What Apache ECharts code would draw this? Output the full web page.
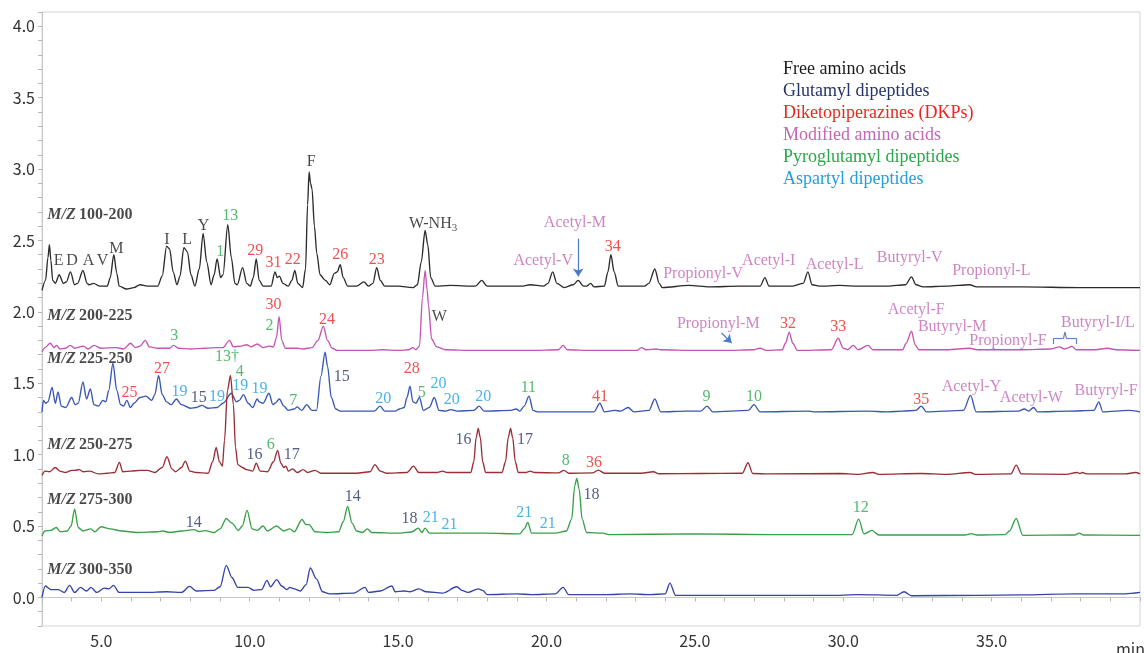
<!DOCTYPE html>
<html>
<head>
<meta charset="utf-8">
<title>LC-MS chromatogram</title>
<script src="https://cdn.jsdelivr.net/npm/echarts@6/dist/echarts.min.js"></script>
<style>
  html, body { margin: 0; padding: 0; background: #fff; }
  #main { width: 1144px; height: 653px; }
</style>
</head>
<body>
<div id="main"></div>
<script>
// retention time (min), intensity (offset per trace)
var mz100_200 = [
  [3.0, 2.15], [3.12, 2.22], [3.2, 2.38], [3.25, 2.47], [3.3, 2.36], [3.36, 2.22], [3.45, 2.2], [3.58, 2.26],
  [3.72, 2.2], [3.82, 2.21], [3.96, 2.28], [4.1, 2.19], [4.2, 2.2], [4.38, 2.29], [4.52, 2.2], [4.58, 2.19],
  [4.74, 2.2], [4.95, 2.18], [5.2, 2.18], [5.3, 2.24], [5.42, 2.40], [5.52, 2.27], [5.6, 2.18], [5.85, 2.16],
  [6.1, 2.17], [6.3, 2.19], [6.55, 2.18], [6.9, 2.18], [7.05, 2.25], [7.2, 2.46], [7.3, 2.44], [7.42, 2.28],
  [7.55, 2.19], [7.65, 2.25], [7.78, 2.45], [7.9, 2.42], [8.02, 2.26], [8.15, 2.18], [8.3, 2.3], [8.43, 2.55],
  [8.55, 2.35], [8.7, 2.19], [8.8, 2.26], [8.9, 2.37], [9.02, 2.24], [9.1, 2.26], [9.26, 2.61], [9.38, 2.38],
  [9.5, 2.2], [9.58, 2.19], [9.76, 2.31], [9.9, 2.2], [10.02, 2.18], [10.12, 2.24], [10.22, 2.37], [10.32, 2.22],
  [10.45, 2.18], [10.72, 2.18], [10.85, 2.28], [10.93, 2.24], [11.0, 2.25], [11.12, 2.2], [11.3, 2.18], [11.42, 2.22],
  [11.52, 2.29], [11.62, 2.2], [11.78, 2.17], [11.88, 2.3], [11.95, 2.75], [12.0, 2.98], [12.05, 2.9], [12.1, 2.86],
  [12.18, 2.6], [12.26, 2.41], [12.37, 2.26], [12.55, 2.22], [12.7, 2.19], [12.85, 2.27], [12.95, 2.28], [13.05, 2.33],
  [13.15, 2.24], [13.3, 2.18], [13.6, 2.18], [13.85, 2.21], [14.0, 2.18], [14.15, 2.2], [14.28, 2.31], [14.4, 2.22],
  [14.55, 2.18], [15.0, 2.18], [15.5, 2.17], [15.65, 2.19], [15.78, 2.35], [15.91, 2.57], [16.0, 2.47], [16.1, 2.24],
  [16.25, 2.18], [16.75, 2.185], [17.6, 2.18], [17.82, 2.22], [18.0, 2.18], [19.2, 2.18], [19.45, 2.19], [19.9, 2.18],
  [20.05, 2.2], [20.21, 2.28], [20.35, 2.2], [20.6, 2.17], [20.9, 2.19], [21.07, 2.22], [21.25, 2.18], [21.35, 2.18],
  [21.49, 2.2], [21.6, 2.175], [21.95, 2.18], [22.07, 2.28], [22.17, 2.40], [22.28, 2.28], [22.42, 2.18], [23.3, 2.18],
  [23.45, 2.2], [23.65, 2.30], [23.8, 2.2], [23.9, 2.17], [24.8, 2.185], [25.5, 2.175], [26.5, 2.18], [27.2, 2.18],
  [27.36, 2.24], [27.5, 2.18], [28.3, 2.18], [28.65, 2.2], [28.81, 2.28], [28.95, 2.19], [29.2, 2.18], [29.9, 2.185],
  [30.5, 2.18], [31.5, 2.18], [32.1, 2.19], [32.3, 2.245], [32.45, 2.19], [32.7, 2.175], [33.5, 2.18], [34.26, 2.19],
  [34.5, 2.175], [36.0, 2.175], [38.0, 2.17], [40.0, 2.17]
];
var mz200_225 = [
  [3.0, 1.72], [3.1, 1.75], [3.28, 1.78], [3.4, 1.75], [3.5, 1.765], [3.6, 1.74], [3.8, 1.745], [3.95, 1.765],
  [4.1, 1.745], [4.4, 1.76], [4.55, 1.74], [4.75, 1.765], [5.0, 1.745], [5.5, 1.75], [5.75, 1.74], [5.98, 1.78],
  [6.15, 1.75], [6.3, 1.76], [6.48, 1.80], [6.62, 1.755], [6.9, 1.745], [7.3, 1.745], [7.43, 1.765], [7.6, 1.745],
  [8.0, 1.74], [8.5, 1.745], [8.9, 1.75], [9.1, 1.75], [9.32, 1.80], [9.45, 1.755], [9.7, 1.76], [9.9, 1.77],
  [10.05, 1.755], [10.25, 1.775], [10.45, 1.75], [10.65, 1.76], [10.8, 1.755], [10.9, 1.82], [10.99, 1.966], [11.08, 1.8],
  [11.2, 1.745], [11.6, 1.745], [11.8, 1.74], [12.1, 1.75], [12.3, 1.8], [12.48, 1.90], [12.62, 1.8], [12.78, 1.745],
  [12.95, 1.73], [14.0, 1.73], [14.5, 1.735], [15.0, 1.73], [15.35, 1.735], [15.5, 1.75], [15.6, 1.735], [15.72, 1.76],
  [15.82, 2.1], [15.91, 2.29], [15.98, 2.15], [16.02, 2.05], [16.13, 1.81], [16.3, 1.755], [16.6, 1.735], [17.5, 1.73],
  [18.5, 1.73], [19.5, 1.73], [20.4, 1.735], [20.56, 1.765], [20.7, 1.735], [21.5, 1.73], [22.5, 1.73], [23.05, 1.73],
  [23.2, 1.75], [23.35, 1.735], [23.7, 1.74], [23.85, 1.735], [25.0, 1.73], [26.0, 1.73], [27.0, 1.735], [27.2, 1.745],
  [27.4, 1.73], [27.95, 1.735], [28.05, 1.78], [28.18, 1.857], [28.3, 1.78], [28.45, 1.73], [29.6, 1.735], [29.83, 1.815],
  [30.0, 1.745], [30.15, 1.735], [30.34, 1.765], [30.5, 1.735], [30.84, 1.765], [31.0, 1.735], [32.0, 1.735], [32.12, 1.78],
  [32.3, 1.864], [32.42, 1.77], [32.55, 1.735], [33.5, 1.735], [34.26, 1.745], [34.5, 1.735], [36.0, 1.735], [37.0, 1.74],
  [37.29, 1.755], [37.45, 1.74], [37.6, 1.75], [37.7, 1.76], [37.85, 1.735], [38.5, 1.735], [38.9, 1.745], [39.2, 1.735],
  [40.0, 1.73]
];
var mz225_250 = [
  [3.0, 1.3], [3.05, 1.38], [3.12, 1.36], [3.2, 1.37], [3.34, 1.47], [3.45, 1.36], [3.54, 1.44], [3.65, 1.34],
  [3.8, 1.33], [4.0, 1.40], [4.12, 1.35], [4.22, 1.36], [4.38, 1.51], [4.5, 1.39], [4.63, 1.46], [4.75, 1.35],
  [4.9, 1.34], [5.05, 1.38], [5.15, 1.37], [5.25, 1.45], [5.39, 1.64], [5.52, 1.45], [5.65, 1.35], [5.75, 1.34],
  [5.86, 1.38], [5.98, 1.33], [6.1, 1.36], [6.3, 1.40], [6.5, 1.41], [6.7, 1.38], [6.8, 1.42], [6.93, 1.555],
  [7.05, 1.42], [7.2, 1.37], [7.35, 1.35], [7.53, 1.39], [7.7, 1.35], [8.0, 1.325], [8.2, 1.33], [8.39, 1.345],
  [8.6, 1.325], [8.9, 1.33], [9.1, 1.36], [9.38, 1.43], [9.55, 1.37], [9.65, 1.38], [9.79, 1.42], [9.95, 1.36],
  [10.1, 1.33], [10.25, 1.39], [10.32, 1.37], [10.45, 1.36], [10.65, 1.43], [10.78, 1.35], [10.85, 1.36], [11.0, 1.39],
  [11.15, 1.34], [11.3, 1.31], [11.5, 1.32], [11.6, 1.335], [11.75, 1.31], [11.92, 1.35], [12.1, 1.31], [12.25, 1.31],
  [12.4, 1.55], [12.54, 1.717], [12.62, 1.62], [12.75, 1.4], [12.9, 1.32], [13.05, 1.305], [14.2, 1.305], [14.39, 1.34],
  [14.55, 1.305], [14.9, 1.305], [15.05, 1.32], [15.2, 1.33], [15.3, 1.4], [15.4, 1.48], [15.5, 1.37], [15.6, 1.36],
  [15.72, 1.40], [15.85, 1.31], [16.05, 1.33], [16.22, 1.40], [16.38, 1.31], [16.6, 1.305], [16.77, 1.315], [17.0, 1.305],
  [17.55, 1.31], [17.73, 1.34], [17.9, 1.305], [18.8, 1.31], [18.98, 1.32], [19.1, 1.305], [19.25, 1.34], [19.41, 1.41],
  [19.55, 1.31], [19.7, 1.3], [21.6, 1.3], [21.8, 1.36], [21.95, 1.3], [22.3, 1.31], [22.5, 1.305], [22.75, 1.33],
  [22.95, 1.30], [23.45, 1.31], [23.65, 1.39], [23.85, 1.3], [24.7, 1.305], [25.2, 1.305], [25.41, 1.34], [25.6, 1.3],
  [26.8, 1.31], [26.99, 1.35], [27.2, 1.30], [28.8, 1.305], [29.0, 1.3], [30.8, 1.305], [31.5, 1.3], [32.0, 1.305],
  [32.45, 1.31], [32.63, 1.34], [32.8, 1.3], [34.05, 1.31], [34.29, 1.415], [34.48, 1.3], [35.9, 1.305], [36.1, 1.32],
  [36.25, 1.305], [36.41, 1.33], [36.55, 1.3], [37.6, 1.305], [38.45, 1.31], [38.61, 1.37], [38.75, 1.3], [39.6, 1.31],
  [40.0, 1.3]
];
var mz250_275 = [
  [3.0, 0.855], [3.1, 0.885], [3.25, 0.88], [3.45, 0.91], [3.6, 0.885], [3.8, 0.875], [4.0, 0.89], [4.12, 0.89],
  [4.25, 0.895], [4.4, 0.88], [4.6, 0.885], [4.9, 0.865], [5.2, 0.87], [5.45, 0.875], [5.61, 0.946], [5.72, 0.88],
  [6.0, 0.885], [6.3, 0.89], [6.55, 0.89], [6.8, 0.875], [7.05, 0.91], [7.21, 0.985], [7.38, 0.9], [7.5, 0.88],
  [7.7, 0.91], [7.83, 0.955], [7.98, 0.885], [8.2, 0.875], [8.6, 0.87], [8.75, 0.95], [8.87, 1.05], [8.98, 0.95],
  [9.08, 0.92], [9.15, 1.1], [9.25, 1.45], [9.35, 1.555], [9.45, 1.35], [9.52, 1.05], [9.6, 0.93], [9.75, 0.91],
  [9.9, 0.895], [10.1, 0.885], [10.22, 0.94], [10.35, 0.885], [10.6, 0.88], [10.8, 0.95], [10.94, 1.03], [11.05, 0.94],
  [11.15, 0.91], [11.22, 0.92], [11.3, 0.885], [11.45, 0.9], [11.6, 0.875], [11.8, 0.895], [11.95, 0.875], [12.2, 0.89],
  [12.4, 0.87], [13.6, 0.87], [14.05, 0.88], [14.22, 0.93], [14.4, 0.885], [14.6, 0.87], [15.3, 0.875], [15.52, 0.92],
  [15.7, 0.875], [16.3, 0.875], [16.5, 0.885], [16.65, 0.875], [17.45, 0.875], [17.55, 0.95], [17.63, 1.12], [17.7, 1.183],
  [17.77, 1.12], [17.85, 0.95], [17.95, 0.875], [18.5, 0.875], [18.62, 0.95], [18.71, 1.12], [18.79, 1.183], [18.86, 1.12],
  [18.95, 0.95], [19.05, 0.875], [19.3, 0.875], [19.45, 0.885], [19.6, 0.875], [20.4, 0.872], [20.59, 0.89], [20.75, 0.87],
  [21.55, 0.872], [21.75, 0.892], [21.95, 0.87], [23.2, 0.87], [23.6, 0.88], [23.8, 0.866], [25.2, 0.868], [26.6, 0.87],
  [26.79, 0.943], [26.95, 0.868], [27.5, 0.865], [29.9, 0.868], [30.5, 0.862], [31.0, 0.875], [31.2, 0.862], [32.6, 0.868],
  [33.5, 0.862], [34.28, 0.875], [34.45, 0.862], [35.65, 0.865], [35.83, 0.927], [36.0, 0.865], [37.5, 0.862], [37.88, 0.875],
  [37.98, 0.868], [38.05, 0.875], [38.2, 0.865], [39.5, 0.865], [39.85, 0.875], [40.0, 0.865]
];
var mz275_300 = [
  [3.0, 0.43], [3.1, 0.465], [3.3, 0.47], [3.48, 0.49], [3.62, 0.46], [3.85, 0.465], [3.98, 0.5], [4.1, 0.618],
  [4.22, 0.49], [4.38, 0.465], [4.64, 0.48], [4.78, 0.46], [4.99, 0.495], [5.3, 0.48], [5.7, 0.465], [6.2, 0.455],
  [6.9, 0.46], [7.07, 0.465], [7.3, 0.455], [7.7, 0.465], [8.12, 0.475], [8.3, 0.462], [8.5, 0.468], [8.8, 0.455],
  [9.0, 0.48], [9.21, 0.553], [9.4, 0.52], [9.62, 0.47], [9.75, 0.5], [9.91, 0.61], [10.08, 0.48], [10.25, 0.47],
  [10.45, 0.5], [10.6, 0.465], [10.9, 0.5], [11.15, 0.465], [11.35, 0.48], [11.5, 0.46], [11.76, 0.546], [11.9, 0.51],
  [12.0, 0.51], [12.2, 0.46], [12.6, 0.455], [13.0, 0.46], [13.15, 0.53], [13.3, 0.637], [13.45, 0.52], [13.6, 0.465],
  [13.8, 0.455], [13.96, 0.48], [14.12, 0.455], [15.0, 0.45], [15.45, 0.458], [15.68, 0.485], [15.8, 0.455], [15.91, 0.485],
  [16.05, 0.45], [17.9, 0.45], [19.1, 0.445], [19.25, 0.48], [19.37, 0.525], [19.5, 0.45], [20.3, 0.45], [20.67, 0.465],
  [20.85, 0.55], [20.95, 0.78], [21.02, 0.834], [21.1, 0.76], [21.2, 0.55], [21.35, 0.455], [21.9, 0.45], [22.1, 0.44],
  [25.0, 0.445], [27.5, 0.44], [30.3, 0.44], [30.52, 0.548], [30.7, 0.445], [30.97, 0.47], [31.2, 0.437], [34.1, 0.437],
  [34.32, 0.447], [34.5, 0.437], [35.45, 0.44], [35.6, 0.465], [35.83, 0.553], [36.05, 0.435], [37.8, 0.437], [37.95, 0.45],
  [38.1, 0.437], [40.0, 0.435]
];
var mz300_350 = [
  [3.0, 0.0], [3.11, 0.08], [3.3, 0.055], [3.55, 0.055], [3.75, 0.035], [3.93, 0.085], [4.1, 0.035], [4.3, 0.07],
  [4.5, 0.045], [4.65, 0.07], [4.85, 0.035], [5.1, 0.065], [5.25, 0.06], [5.41, 0.085], [5.6, 0.035], [6.5, 0.035],
  [7.2, 0.04], [7.7, 0.035], [7.97, 0.077], [8.2, 0.045], [8.8, 0.05], [9.0, 0.075], [9.21, 0.225], [9.4, 0.14],
  [9.6, 0.07], [9.94, 0.07], [10.15, 0.05], [10.4, 0.055], [10.58, 0.12], [10.7, 0.075], [10.91, 0.125], [11.08, 0.08],
  [11.25, 0.055], [11.35, 0.07], [11.5, 0.06], [11.7, 0.045], [11.9, 0.09], [12.04, 0.206], [12.25, 0.13], [12.45, 0.04],
  [12.7, 0.025], [13.5, 0.03], [13.89, 0.07], [14.0, 0.035], [14.4, 0.045], [14.79, 0.08], [14.9, 0.04], [15.2, 0.045],
  [15.4, 0.04], [15.7, 0.06], [15.95, 0.04], [16.5, 0.03], [16.98, 0.075], [17.15, 0.05], [17.35, 0.035], [17.7, 0.06],
  [17.85, 0.05], [18.0, 0.02], [19.0, 0.025], [19.5, 0.02], [20.3, 0.025], [20.56, 0.07], [20.75, 0.02], [22.0, 0.02],
  [22.8, 0.025], [23.5, 0.02], [24.0, 0.025], [24.16, 0.10], [24.35, 0.015], [26.0, 0.015], [29.9, 0.015], [30.5, 0.02],
  [31.8, 0.015], [32.05, 0.04], [32.3, 0.012], [34.5, 0.015], [36.0, 0.018], [37.8, 0.025], [39.5, 0.025], [40.0, 0.035]
];

var traceLabels = ['100-200', '200-225', '225-250', '250-275', '275-300', '300-350'];
var traceData = [mz100_200, mz200_225, mz225_250, mz250_275, mz275_300, mz300_350];
var traceColors = ['#2b2b2b', '#c455b5', '#3856b3', '#9a2d36', '#38a048', '#3444a8'];
// where each M/Z caption sits (time, level)
var traceLabelPos = [[3.18, 2.68], [3.18, 1.973], [3.18, 1.671], [3.18, 1.066], [3.18, 0.681], [3.18, 0.195]];

var xLabelTimes = [5, 10, 15, 20, 25, 30, 35];
var yLabelValues = [0, 0.5, 1, 1.5, 2, 2.5, 3, 3.5, 4];

var groupNames = ['Free amino acids', 'Glutamyl dipeptides', 'Diketopiperazines (DKPs)',
  'Modified amino acids', 'Pyroglutamyl dipeptides', 'Aspartyl dipeptides'];
var groupColors = {free: '#1a1a1a', glu: '#26336b', dkp: '#ee2424', mod: '#c266b5', pyro: '#2aa84a', asp: '#1e9fe0'};
var groupKeys = ['free', 'glu', 'dkp', 'mod', 'pyro', 'asp'];

// peak annotations: text, time, level, group
var notes = [
  ['E', 3.56, 2.356, 'free'], ['D', 4.01, 2.356, 'free'], ['A', 4.57, 2.356, 'free'], ['V', 5.04, 2.356, 'free'],
  ['M', 5.51, 2.443, 'free'], ['I', 7.21, 2.503, 'free'], ['L', 7.89, 2.503, 'free'], ['Y', 8.44, 2.605, 'free'],
  ['1', 9.01, 2.42, 'pyro'], ['13', 9.34, 2.675, 'pyro'], ['29', 10.19, 2.426, 'dkp'], ['31', 10.8, 2.345, 'dkp'],
  ['22', 11.45, 2.368, 'dkp'], ['F', 12.07, 3.054, 'free'], ['26', 13.05, 2.40, 'dkp'], ['23', 14.28, 2.368, 'dkp'],
  ['W-NH3', 16.18, 2.619, 'free'], ['Acetyl-V', 19.89, 2.356, 'mod'], ['Acetyl-M', 20.96, 2.624, 'mod'],
  ['34', 22.23, 2.457, 'dkp'], ['Propionyl-V', 25.28, 2.264, 'mod'], ['Acetyl-I', 27.49, 2.356, 'mod'],
  ['Acetyl-L', 29.71, 2.333, 'mod'], ['Butyryl-V', 32.24, 2.38, 'mod'], ['Propionyl-L', 34.99, 2.29, 'mod'],
  ['3', 7.46, 1.83, 'pyro'], ['30', 10.8, 2.047, 'dkp'], ['2', 10.67, 1.903, 'pyro'], ['24', 12.6, 1.943, 'dkp'],
  ['W', 16.39, 1.962, 'free'], ['Propionyl-M', 25.79, 1.915, 'mod'], ['32', 28.14, 1.915, 'dkp'],
  ['33', 29.83, 1.896, 'dkp'], ['Acetyl-F', 32.46, 2.015, 'mod'], ['Butyryl-M', 33.67, 1.896, 'mod'],
  ['Propionyl-F', 35.55, 1.80, 'mod'], ['Butyryl-I/L', 38.58, 1.922, 'mod'],
  ['25', 5.95, 1.434, 'dkp'], ['27', 7.04, 1.601, 'dkp'], ['19', 7.63, 1.438, 'asp'], ['15', 8.28, 1.397, 'glu'],
  ['19', 8.9, 1.404, 'asp'], ['13\u2020', 9.23, 1.683, 'pyro'], ['4', 9.66, 1.583, 'pyro'], ['19', 9.68, 1.48, 'asp'],
  ['19', 10.33, 1.462, 'asp'], ['7', 11.47, 1.38, 'pyro'], ['15', 13.1, 1.543, 'glu'], ['20', 14.5, 1.392, 'asp'],
  ['28', 15.46, 1.601, 'dkp'], ['5', 15.8, 1.434, 'pyro'], ['20', 16.36, 1.497, 'asp'], ['20', 16.81, 1.387, 'asp'],
  ['20', 17.87, 1.404, 'asp'], ['11', 19.39, 1.469, 'pyro'], ['41', 21.8, 1.408, 'dkp'], ['9', 25.39, 1.404, 'pyro'],
  ['10', 26.99, 1.408, 'pyro'], ['35', 32.63, 1.387, 'dkp'], ['Acetyl-Y', 34.32, 1.473, 'mod'],
  ['Acetyl-W', 36.34, 1.397, 'mod'], ['Butyryl-F', 38.86, 1.45, 'mod'],
  ['16', 10.16, 1.001, 'glu'], ['6', 10.71, 1.066, 'pyro'], ['17', 11.42, 0.997, 'glu'], ['16', 17.2, 1.106, 'glu'],
  ['17', 19.28, 1.106, 'glu'], ['8', 20.65, 0.957, 'pyro'], ['36', 21.6, 0.946, 'dkp'],
  ['14', 8.11, 0.525, 'glu'], ['14', 13.47, 0.702, 'glu'], ['18', 15.38, 0.548, 'glu'], ['21', 16.1, 0.555, 'asp'],
  ['21', 16.73, 0.508, 'asp'], ['21', 19.25, 0.595, 'asp'], ['21', 20.04, 0.515, 'asp'], ['18', 21.52, 0.718, 'glu'],
  ['12', 30.59, 0.625, 'pyro']
];
// pointer arrows and the Butyryl-I/L bracket
var arrows = [[[21.07, 2.513], [21.07, 2.248]], [[25.9, 1.852], [26.24, 1.782]]];
var bracket = [[37.09, 1.775], [37.09, 1.815], [37.42, 1.815], [37.47, 1.858], [37.52, 1.815], [37.85, 1.815], [37.85, 1.775]];

var serif = 'Liberation Serif';
var sans = 'Noto Sans CJK JP';

var series = [];
traceData.forEach(function (d, i) {
  series.push({
    name: 'M/Z ' + traceLabels[i],
    type: 'line',
    data: d,
    showSymbol: false,
    smooth: 0.3,
    smoothMonotone: 'x',
    silent: true,
    z: 3,
    lineStyle: { color: traceColors[i], width: 1.35 }
  });
});

var bracketLines = [];
for (var b = 0; b < bracket.length - 1; b++) {
  bracketLines.push([{ coord: bracket[b] }, { coord: bracket[b + 1] }]);
}

series.push({
  type: 'scatter',
  symbolSize: 0,
  silent: true,
  z: 5,
  data: notes.map(function (n) {
    return { name: n[0], value: [n[1], n[2]], label: { color: groupColors[n[3]] } };
  }),
  label: {
    show: true,
    position: 'inside',
    fontFamily: serif,
    fontSize: 16,
    formatter: function (p) {
      if (p.name === 'W-NH3') return '{n|W-NH}{s|3}';
      return p.name;
    },
    rich: {
      n: { fontFamily: serif, fontSize: 16, color: '#1a1a1a', lineHeight: 20 },
      s: { fontFamily: serif, fontSize: 11, color: '#1a1a1a', lineHeight: 11, verticalAlign: 'bottom' }
    }
  },
  markLine: {
    silent: true,
    animation: false,
    symbol: ['none', 'arrow'],
    symbolSize: 8,
    label: { show: false },
    lineStyle: { color: '#4a7acb', width: 1.2, type: 'solid' },
    data: arrows.map(function (a) { return [{ coord: a[0] }, { coord: a[1] }]; })
  }
});

series.push({
  type: 'scatter',
  symbolSize: 0,
  silent: true,
  z: 5,
  data: bracket.slice(0, 1).map(function (p) { return { value: p, label: { show: false } }; }),
  markLine: {
    silent: true,
    animation: false,
    symbol: ['none', 'none'],
    label: { show: false },
    lineStyle: { color: '#5b86cf', width: 1.2, type: 'solid' },
    data: bracketLines
  }
});

series.push({
  type: 'scatter',
  symbolSize: 0,
  silent: true,
  z: 5,
  data: traceLabels.map(function (t, i) { return { name: t, value: traceLabelPos[i] }; }),
  label: {
    show: true,
    position: 'inside',
    align: 'left',
    formatter: function (p) { return '{i|M/Z} {b|' + p.name + '}'; },
    rich: {
      i: { fontFamily: serif, fontSize: 16, fontStyle: 'italic', fontWeight: 'bold', color: '#1a1a1a' },
      b: { fontFamily: serif, fontSize: 16, fontWeight: 'bold', color: '#1a1a1a' }
    }
  }
});

var legendText = groupNames.map(function (g, i) {
  return {
    type: 'text',
    left: 783,
    top: 60 + i * 22,
    style: { text: g, fill: groupColors[groupKeys[i]], font: '18px "Liberation Serif"' }
  };
});

var option = {
  animation: false,
  backgroundColor: '#fff',
  grid: {
    left: 42, right: 4, top: 12, bottom: 27,
    show: true, borderColor: '#d4d4d4', borderWidth: 1,
    containLabel: false, outerBoundsMode: 'none'
  },
  xAxis: {
    type: 'value',
    min: 3, max: 40, interval: 1,
    axisLine: { lineStyle: { color: '#c8c8c8' } },
    axisTick: { length: 4, lineStyle: { color: '#b8b8b8' } },
    splitLine: { show: false },
    axisLabel: {
      color: '#333', fontFamily: sans, fontSize: 16, margin: 7,
      showMinLabel: true, showMaxLabel: true,
      formatter: function (v) {
        var r = Math.round(v);
        return xLabelTimes.indexOf(r) >= 0 ? r.toFixed(1) : '';
      }
    }
  },
  yAxis: {
    type: 'value',
    min: -0.2, max: 4.1, interval: 0.1,
    axisLine: { show: true, lineStyle: { color: '#c8c8c8' } },
    axisTick: { show: true, length: 4, lineStyle: { color: '#b8b8b8' } },
    splitLine: { show: false },
    axisLabel: {
      color: '#333', fontFamily: sans, fontSize: 16, margin: 7,
      formatter: function (v) {
        var r = Math.round(v * 10) / 10;
        return yLabelValues.indexOf(r) >= 0 ? r.toFixed(1) : '';
      }
    }
  },
  graphic: legendText.concat([{
    type: 'text',
    left: 1116,
    top: 641,
    style: { text: 'min', fill: '#333', font: '16px "Noto Sans CJK JP"' }
  }]),
  series: series
};

var chart = echarts.init(document.getElementById('main'));
chart.setOption(option);
</script>
</body>
</html>
